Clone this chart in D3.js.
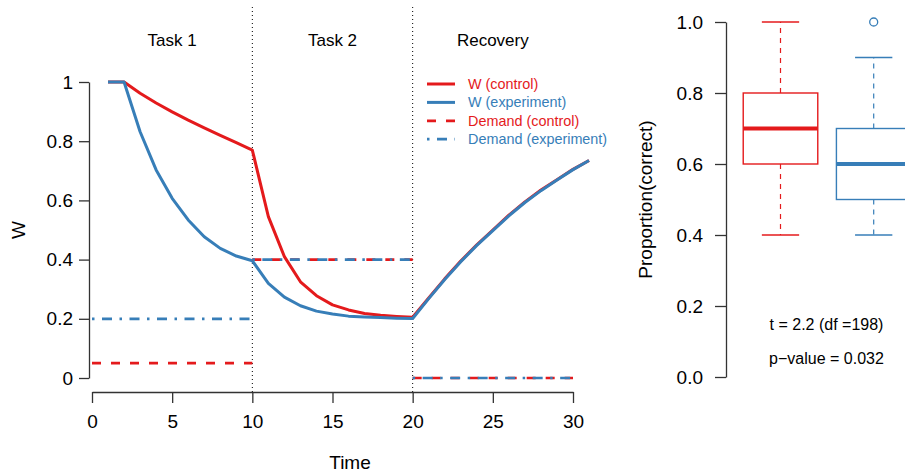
<!DOCTYPE html>
<html>
<head>
<meta charset="utf-8">
<script src="https://cdn.jsdelivr.net/npm/d3@7"></script>
<style>
  html, body { margin: 0; padding: 0; background: #fff; }
  svg { display: block; font-family: "Liberation Sans", Arial, Helvetica, sans-serif; }
</style>
</head>
<body>
<svg id="chart" width="905" height="475"></svg>
<script>
// ---------------- data ----------------
const time = d3.range(1, 32);
const wControl = [1, 1, 0.962, 0.929, 0.899, 0.871, 0.845, 0.82, 0.795, 0.77,
  0.545, 0.41, 0.325, 0.278, 0.247, 0.23, 0.218, 0.212, 0.208, 0.205,
  0.27, 0.335, 0.395, 0.45, 0.50, 0.55, 0.595, 0.635, 0.67, 0.705, 0.735];
const wExperiment = [1, 1, 0.832, 0.703, 0.607, 0.534, 0.477, 0.438, 0.412, 0.396,
  0.32, 0.273, 0.244, 0.226, 0.216, 0.209, 0.206, 0.204, 0.202, 0.201,
  0.268, 0.333, 0.393, 0.448, 0.498, 0.548, 0.593, 0.633, 0.669, 0.704, 0.735];
const phaseNames = ["Task 1", "Task 2", "Recovery"];
const phaseStart = [0, 10, 20];
const phaseEnd = [10, 20, 30];
const demandControl = [0.05, 0.4, 0];
const demandExperiment = [0.2, 0.4, 0];
const xTicks = [0, 5, 10, 15, 20, 25, 30];
const yTicks = [0, 0.2, 0.4, 0.6, 0.8, 1];
const legendLabels = ["W (control)", "W (experiment)", "Demand (control)", "Demand (experiment)"];

const boxGroups = ["control", "experiment"];
const boxLow = [0.4, 0.4];
const boxQ1 = [0.6, 0.5];
const boxMedian = [0.7, 0.6];
const boxQ3 = [0.8, 0.7];
const boxHigh = [1.0, 0.9];
const boxOutliers = [[], [1.0]];
const boxTicks = [0, 0.2, 0.4, 0.6, 0.8, 1.0];
const statLines = ["t = 2.2 (df =198)", "p\u2212value = 0.032"];

// ---------------- styles ----------------
const RED = "#E41A1C", BLUE = "#377EB8";
const AX = "#333";
const FS = 16;     // text
const FA = 19;     // axis ticks and titles

const svg = d3.select("#chart");

// ---------------- left panel ----------------
const x = d3.scaleLinear().domain([0, 30]).range([92, 573]);
const y = d3.scaleLinear().domain([0, 1]).range([378, 82]);

// phase separators
svg.append("g").selectAll("line").data([10, 20]).join("line")
  .attr("x1", d => x(d)).attr("x2", d => x(d))
  .attr("y1", 7).attr("y2", 392)
  .attr("stroke", "#000").attr("stroke-width", 1).attr("stroke-dasharray", "1,3");

// phase labels
svg.append("g").selectAll("text").data(phaseNames).join("text")
  .attr("x", (d, i) => x((phaseStart[i] + phaseEnd[i]) / 2))
  .attr("y", 46).attr("text-anchor", "middle").attr("font-size", 17).attr("fill", "#000")
  .text(d => d);

// axes
const xAxis = d3.axisBottom(x).tickValues(xTicks).tickSize(11).tickSizeOuter(0).tickPadding(12)
  .tickFormat(d3.format("d"));
const gx = svg.append("g").attr("transform", "translate(0,392)").call(xAxis);
const yAxis = d3.axisLeft(y).tickValues(yTicks).tickSize(10).tickSizeOuter(0).tickPadding(6)
  .tickFormat(d => d === 0 || d === 1 ? d3.format("d")(d) : d3.format(".1f")(d));
const gy = svg.append("g").attr("transform", "translate(89,0)").call(yAxis);
[gx, gy].forEach(g => {
  g.select(".domain").attr("stroke", AX).attr("stroke-width", 1.3);
  g.selectAll(".tick line").attr("stroke", AX).attr("stroke-width", 1.3);
  g.selectAll(".tick text").attr("font-size", FA).attr("fill", "#000")
    .attr("font-family", "Liberation Sans, Arial, sans-serif");
});

svg.append("text").attr("x", 350).attr("y", 469).attr("text-anchor", "middle")
  .attr("font-size", FA).text("Time");
svg.append("text").attr("transform", "translate(25,230) rotate(-90)")
  .attr("text-anchor", "middle").attr("font-size", FA).text("W");

// W lines
const line = d3.line().x((d, i) => x(time[i])).y(d => y(d));
svg.append("path").datum(wControl).attr("d", line)
  .attr("fill", "none").attr("stroke", RED).attr("stroke-width", 3).attr("stroke-linejoin", "round");
svg.append("path").datum(wExperiment).attr("d", line)
  .attr("fill", "none").attr("stroke", BLUE).attr("stroke-width", 3).attr("stroke-linejoin", "round");

// demand lines
const DASH_RED = "9,10";
const DASH_BLUE = "2.5,7.5,10,7.5";
svg.append("g").selectAll("line").data(demandControl).join("line")
  .attr("x1", (d, i) => x(phaseStart[i])).attr("x2", (d, i) => x(phaseEnd[i]))
  .attr("y1", d => y(d)).attr("y2", d => y(d))
  .attr("stroke", RED).attr("stroke-width", 2.7).attr("stroke-dasharray", DASH_RED);
svg.append("g").selectAll("line").data(demandExperiment).join("line")
  .attr("x1", (d, i) => x(phaseStart[i])).attr("x2", (d, i) => x(phaseEnd[i]))
  .attr("y1", d => y(d)).attr("y2", d => y(d))
  .attr("stroke", BLUE).attr("stroke-width", 2.7).attr("stroke-dasharray", DASH_BLUE);

// legend
const legColors = [RED, BLUE, RED, BLUE];
const legDash = [null, null, DASH_RED, DASH_BLUE];
const leg = svg.append("g");
legendLabels.forEach((lab, i) => {
  const ly = 84 + i * 18.4;
  leg.append("line").attr("x1", 427).attr("x2", 455).attr("y1", ly).attr("y2", ly)
    .attr("stroke", legColors[i]).attr("stroke-width", i < 2 ? 3 : 2.7)
    .attr("stroke-dasharray", legDash[i]);
  leg.append("text").attr("x", 468).attr("y", ly + 5).attr("font-size", 14.4)
    .attr("fill", legColors[i]).text(lab);
});

// ---------------- right panel (boxplot) ----------------
const by = d3.scaleLinear().domain([0, 1]).range([377, 22]);
const bx = d3.scaleLinear().domain([1, 2]).range([780.5, 873.7]);
const halfW = 0.4, capW = 0.2;

const byAxis = d3.axisLeft(by).tickValues(boxTicks).tickSize(11).tickSizeOuter(0).tickPadding(12)
  .tickFormat(d3.format(".1f"));
const gby = svg.append("g").attr("transform", "translate(726,0)").call(byAxis);
gby.select(".domain").attr("stroke", AX).attr("stroke-width", 1.3);
gby.selectAll(".tick line").attr("stroke", AX).attr("stroke-width", 1.3);
gby.selectAll(".tick text").attr("font-size", FA).attr("fill", "#000")
  .attr("font-family", "Liberation Sans, Arial, sans-serif");

svg.append("text").attr("transform", "translate(652,199.5) rotate(-90)")
  .attr("text-anchor", "middle").attr("font-size", FA).text("Proportion(correct)");

const boxColors = [RED, BLUE];
boxGroups.forEach((g, i) => {
  const pos = i + 1, c = boxColors[i];
  const gg = svg.append("g");
  // whiskers
  gg.append("line").attr("x1", bx(pos)).attr("x2", bx(pos))
    .attr("y1", by(boxQ3[i])).attr("y2", by(boxHigh[i]))
    .attr("stroke", c).attr("stroke-width", 1.2).attr("stroke-dasharray", "5,5");
  gg.append("line").attr("x1", bx(pos)).attr("x2", bx(pos))
    .attr("y1", by(boxQ1[i])).attr("y2", by(boxLow[i]))
    .attr("stroke", c).attr("stroke-width", 1.2).attr("stroke-dasharray", "5,5");
  // caps
  [boxLow[i], boxHigh[i]].forEach(v => {
    gg.append("line").attr("x1", bx(pos - capW)).attr("x2", bx(pos + capW))
      .attr("y1", by(v)).attr("y2", by(v)).attr("stroke", c).attr("stroke-width", 1.3);
  });
  // box
  gg.append("rect").attr("x", bx(pos - halfW)).attr("width", bx(pos + halfW) - bx(pos - halfW))
    .attr("y", by(boxQ3[i])).attr("height", by(boxQ1[i]) - by(boxQ3[i]))
    .attr("fill", "#fff").attr("stroke", c).attr("stroke-width", 1.4);
  // median
  gg.append("line").attr("x1", bx(pos - halfW)).attr("x2", bx(pos + halfW))
    .attr("y1", by(boxMedian[i])).attr("y2", by(boxMedian[i]))
    .attr("stroke", c).attr("stroke-width", 4);
  // outliers
  gg.selectAll("circle").data(boxOutliers[i]).join("circle")
    .attr("cx", bx(pos)).attr("cy", d => by(d)).attr("r", 4)
    .attr("fill", "none").attr("stroke", c).attr("stroke-width", 1.3);
});

svg.append("g").selectAll("text").data(statLines).join("text")
  .attr("x", 826.5).attr("y", (d, i) => 330 + i * 34)
  .attr("text-anchor", "middle").attr("font-size", FS).attr("fill", "#000").text(d => d);
</script>
</body>
</html>
